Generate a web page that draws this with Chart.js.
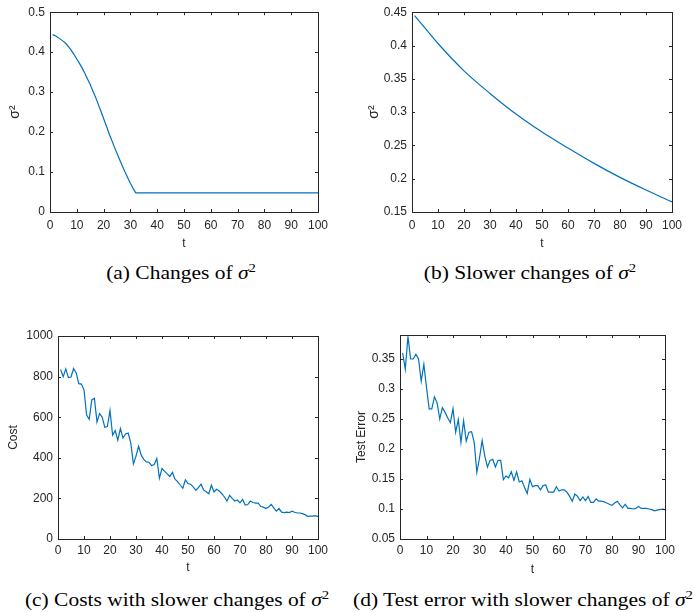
<!DOCTYPE html>
<html>
<head>
<meta charset="utf-8">
<script src="https://cdn.jsdelivr.net/npm/chart.js@4/dist/chart.umd.min.js"></script>
<style>
  body { margin: 0; background: #fff; }
  #page { position: relative; width: 694px; height: 612px; overflow: hidden; }
  canvas { position: absolute; }
  .cap {
    position: absolute; transform: translate(-50%, -50%) scaleX(1.13); white-space: nowrap;
    font-family: "Liberation Serif", "Times New Roman", serif; font-size: 19px; color: #000;
  }
  .cap sup { font-size: 13px; vertical-align: 7px; line-height: 0; }
</style>
</head>
<body>
<div id="page">
  <canvas id="chartA" width="340" height="251" style="left:0;top:0"></canvas>
  <canvas id="chartB" width="344" height="251" style="left:350px;top:0"></canvas>
  <canvas id="chartC" width="340" height="255" style="left:0;top:320px"></canvas>
  <canvas id="chartD" width="344" height="257" style="left:350px;top:320px"></canvas>
  <div class="cap" style="left:181px;top:273px">(a) Changes of <i>σ</i><sup>2</sup></div>
  <div class="cap" style="left:530px;top:273px">(b) Slower changes of <i>σ</i><sup>2</sup></div>
  <div class="cap" style="left:177px;top:600px">(c) Costs with slower changes of <i>σ</i><sup>2</sup></div>
  <div class="cap" style="left:523px;top:600px">(d) Test error with slower changes of <i>σ</i><sup>2</sup></div>
</div>
<script>
// ---- data ----
const xTicks = [0, 10, 20, 30, 40, 50, 60, 70, 80, 90, 100];

// (a) sigma^2, falls until t=32 then stays flat
const tA = [1, 2, 3, 4, 5, 6, 7, 8, 9, 10, 11, 12, 13, 14, 15, 16, 17, 18, 19, 20,
  21, 22, 23, 24, 25, 26, 27, 28, 29, 30, 31, 32, 100];
const sigmaA = [0.444, 0.441, 0.437, 0.432, 0.427, 0.421, 0.413, 0.404, 0.394, 0.383,
  0.372, 0.360, 0.347, 0.333, 0.319, 0.303, 0.287, 0.270, 0.252, 0.234,
  0.216, 0.197, 0.180, 0.163, 0.147, 0.131, 0.115, 0.100, 0.086, 0.072,
  0.059, 0.048, 0.048];
const yTicksA = [0, 0.1, 0.2, 0.3, 0.4, 0.5];

// (b) slower sigma^2
const tB = [1, 10, 20, 30, 40, 50, 60, 70, 80, 90, 100];
const sigmaB = [0.445, 0.403, 0.362, 0.328, 0.297, 0.270, 0.246, 0.223, 0.202, 0.183, 0.165];
const yTicksB = [0.15, 0.2, 0.25, 0.3, 0.35, 0.4, 0.45];

// (c) and (d) share t = 1..100
const tCD = [1, 2, 3, 4, 5, 6, 7, 8, 9, 10, 11, 12, 13, 14, 15, 16, 17, 18, 19, 20,
  21, 22, 23, 24, 25, 26, 27, 28, 29, 30, 31, 32, 33, 34, 35, 36, 37, 38, 39, 40,
  41, 42, 43, 44, 45, 46, 47, 48, 49, 50, 51, 52, 53, 54, 55, 56, 57, 58, 59, 60,
  61, 62, 63, 64, 65, 66, 67, 68, 69, 70, 71, 72, 73, 74, 75, 76, 77, 78, 79, 80,
  81, 82, 83, 84, 85, 86, 87, 88, 89, 90, 91, 92, 93, 94, 95, 96, 97, 98, 99, 100];

const costC = [835, 800, 838, 795, 798, 840, 818, 765, 763, 735,
  610, 590, 685, 693, 576, 618, 600, 550, 554, 633,
  512, 534, 487, 544, 497, 517, 522, 472, 370, 408,
  457, 413, 392, 380, 378, 362, 367, 397, 300, 347,
  333, 321, 308, 328, 295, 283, 266, 250, 291, 273,
  270, 257, 240, 253, 270, 242, 233, 223, 265, 232,
  245, 237, 223, 207, 187, 215, 200, 187, 192, 178,
  195, 167, 170, 187, 180, 177, 177, 160, 157, 150,
  158, 170, 153, 137, 150, 132, 130, 132, 130, 137,
  132, 128, 128, 125, 120, 112, 113, 113, 115, 110];
const yTicksC = [0, 200, 400, 600, 800, 1000];

const errD = [0.360, 0.333, 0.388, 0.350, 0.350, 0.358, 0.350, 0.313, 0.341, 0.303,
  0.267, 0.267, 0.287, 0.277, 0.250, 0.269, 0.261, 0.252, 0.244, 0.267,
  0.228, 0.249, 0.211, 0.247, 0.213, 0.228, 0.229, 0.211, 0.161, 0.185,
  0.214, 0.188, 0.170, 0.181, 0.183, 0.170, 0.181, 0.181, 0.149, 0.155,
  0.152, 0.162, 0.148, 0.162, 0.145, 0.147, 0.136, 0.126, 0.149, 0.137,
  0.139, 0.139, 0.132, 0.139, 0.140, 0.128, 0.128, 0.128, 0.137, 0.130,
  0.132, 0.132, 0.128, 0.121, 0.113, 0.125, 0.121, 0.114, 0.120, 0.114,
  0.121, 0.111, 0.111, 0.117, 0.113, 0.113, 0.112, 0.110, 0.108, 0.106,
  0.110, 0.113, 0.107, 0.102, 0.108, 0.101, 0.101, 0.100, 0.101, 0.104,
  0.101, 0.101, 0.101, 0.100, 0.099, 0.097, 0.098, 0.099, 0.100, 0.099];
const yTicksD = [0.05, 0.1, 0.15, 0.2, 0.25, 0.3, 0.35];

// ---- drawing ----
const AXIS = "#262626";
const LINE = "#0072BD";
Chart.defaults.font.family = "'Liberation Sans', Arial, sans-serif";
Chart.defaults.font.size = 12;
Chart.defaults.color = AXIS;

// matlab style box with inward ticks on all four sides
const boxTicks = {
  id: "boxTicks",
  afterDraw(chart) {
    const { ctx, chartArea: a, scales: { x, y } } = chart;
    ctx.save();
    ctx.strokeStyle = AXIS;
    ctx.lineWidth = 1;
    ctx.beginPath();
    x.ticks.forEach((t) => {
      const p = Math.round(x.getPixelForValue(t.value)) + 0.5;
      ctx.moveTo(p, a.bottom); ctx.lineTo(p, a.bottom - 3);
      ctx.moveTo(p, a.top); ctx.lineTo(p, a.top + 3);
    });
    y.ticks.forEach((t) => {
      const p = Math.round(y.getPixelForValue(t.value)) + 0.5;
      ctx.moveTo(a.left, p); ctx.lineTo(a.left + 3, p);
      ctx.moveTo(a.right, p); ctx.lineTo(a.right - 3, p);
    });
    ctx.stroke();
    ctx.strokeRect(Math.round(a.left) + 0.5, Math.round(a.top) + 0.5,
      Math.round(a.right - a.left), Math.round(a.bottom - a.top));
    ctx.restore();
  },
};

function makeChart(id, xs, ys, opt) {
  return new Chart(document.getElementById(id), {
    type: "line",
    data: {
      datasets: [{
        data: xs.map((v, i) => ({ x: v, y: ys[i] })),
        borderColor: LINE,
        borderWidth: 1.2,
        pointRadius: 0,
        tension: 0,
        cubicInterpolationMode: opt.smooth ? "monotone" : "default",
      }],
    },
    options: {
      responsive: false,
      animation: false,
      layout: { padding: opt.pad },
      plugins: { legend: { display: false }, tooltip: { enabled: false } },
      scales: {
        x: {
          type: "linear",
          min: 0,
          max: 100,
          afterBuildTicks: (s) => { s.ticks = xTicks.map((v) => ({ value: v })); },
          afterFit: (s) => { s.height = opt.xh; },
          grid: { display: false, drawTicks: false },
          border: { display: false },
          ticks: { padding: opt.xpad, maxRotation: 0, autoSkip: false, callback: (v) => String(v) },
          title: { display: true, text: "t", padding: 0 },
        },
        y: {
          type: "linear",
          min: opt.ymin,
          max: opt.ymax,
          afterBuildTicks: (s) => { s.ticks = opt.yTicks.map((v) => ({ value: v })); },
          afterFit: (s) => { s.width = opt.yw; },
          grid: { display: false, drawTicks: false },
          border: { display: false },
          ticks: { padding: 5, autoSkip: false, callback: (v) => String(v) },
          title: { display: true, text: opt.ytitle, padding: 0, font: { size: opt.ytitleSize || 12 } },
        },
      },
    },
    plugins: [boxTicks],
  });
}

makeChart("chartA", tA, sigmaA, {
  ymin: 0, ymax: 0.5, yTicks: yTicksA, ytitle: "σ²", ytitleSize: 14,
  pad: { left: 7, top: 10, right: 22, bottom: 0 }, yw: 43, xh: 39, xpad: 6,
});
makeChart("chartB", tB, sigmaB, {
  smooth: true, ymin: 0.15, ymax: 0.45, yTicks: yTicksB, ytitle: "σ²", ytitleSize: 14,
  pad: { left: 16, top: 10, right: 22, bottom: 0 }, yw: 46, xh: 39, xpad: 6,
});
makeChart("chartC", tCD, costC, {
  ymin: 0, ymax: 1000, yTicks: yTicksC, ytitle: "Cost",
  pad: { left: 6, top: 16, right: 22, bottom: 0 }, yw: 52, xh: 36, xpad: 4,
});
makeChart("chartD", tCD, errD, {
  ymin: 0.05, ymax: 0.39, yTicks: yTicksD, ytitle: "Test Error",
  pad: { left: 4, top: 15, right: 29, bottom: 0 }, yw: 46, xh: 38, xpad: 4,
});
</script>
</body>
</html>
